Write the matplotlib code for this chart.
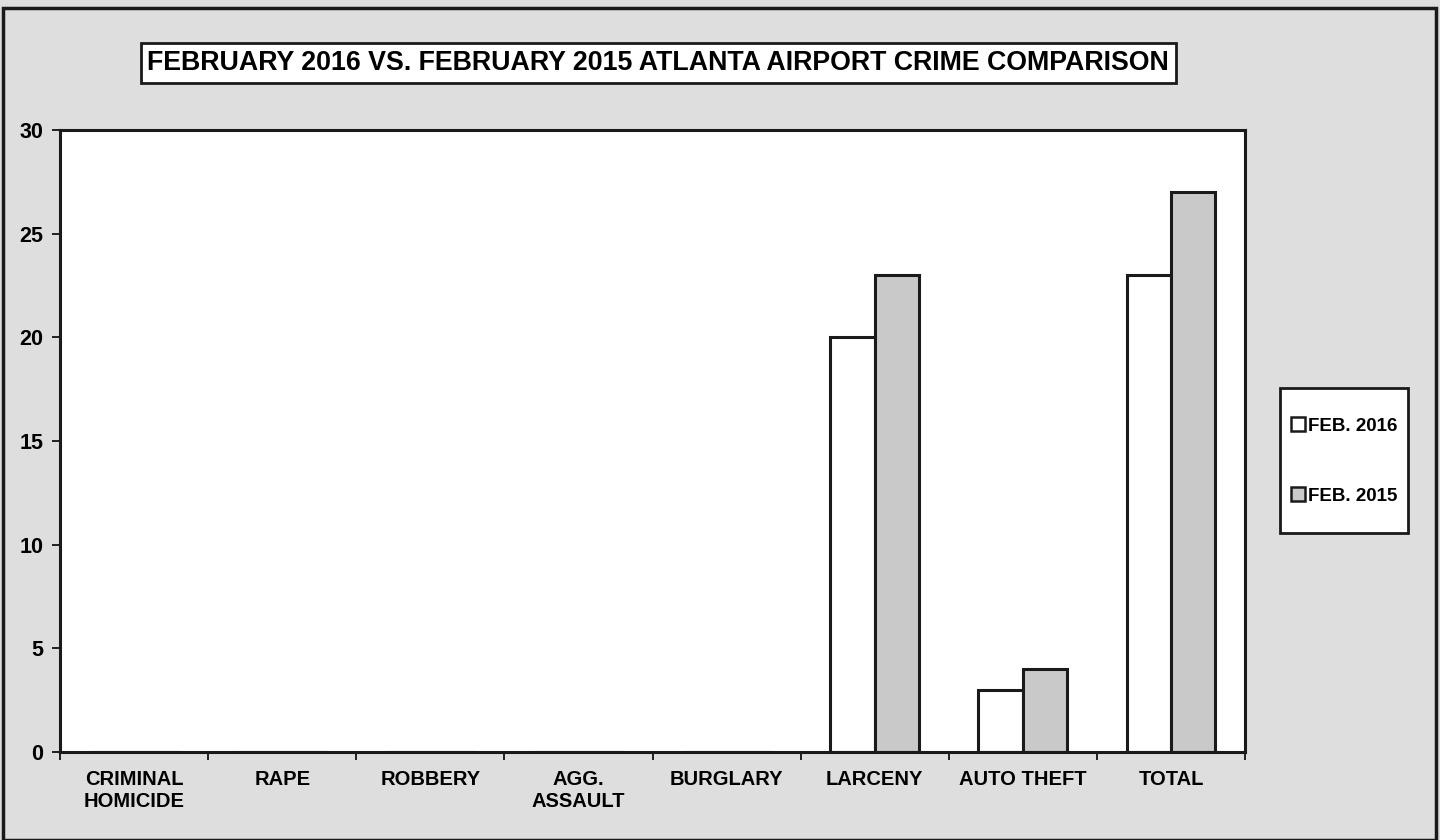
import numpy as np
import matplotlib.pyplot as plt
from matplotlib.patches import Rectangle

# -----------------------------
# Data
# -----------------------------
categories = ["CRIMINAL\nHOMICIDE", "RAPE", "ROBBERY", "AGG.\nASSAULT",
              "BURGLARY", "LARCENY", "AUTO THEFT", "TOTAL"]
feb_2016 = [0, 0, 0, 0, 0, 20, 3, 23]
feb_2015 = [0, 0, 0, 0, 0, 23, 4, 27]
series_labels = ["FEB. 2016", "FEB. 2015"]
y_ticks = [0, 5, 10, 15, 20, 25, 30]

plt.rcParams["font.family"] = ["Liberation Sans", "DejaVu Sans"]
plt.rcParams["font.weight"] = "bold"

bg = "#dedede"
ink = "#1a1a1a"
fig = plt.figure(figsize=(14.4, 8.4), dpi=100, facecolor=bg)
ax = fig.add_axes([0.0417, 0.1048, 0.8229, 0.7402])
ax.set_facecolor("white")

x = np.arange(len(categories))
w = 0.30
ax.bar(x - w / 2, feb_2016, width=w, color="white", edgecolor=ink,
       linewidth=2.2, label=series_labels[0])
ax.bar(x + w / 2, feb_2015, width=w, color="#c9c9c9", edgecolor=ink,
       linewidth=2.2, label=series_labels[1])

ax.set_xlim(-0.5, len(categories) - 0.5)
ax.set_ylim(0, 30)
ax.set_yticks(y_ticks)
ax.tick_params(axis="y", labelsize=15.5, length=6, width=1.2, pad=6)

# category labels centred, ticks at the category boundaries
ax.set_xticks(x)
ax.set_xticklabels(categories, fontsize=14.5, linespacing=1.2)
ax.tick_params(axis="x", which="major", length=0, pad=13)
ax.set_xticks(np.arange(-0.5, len(categories)), minor=True)
ax.tick_params(axis="x", which="minor", length=6, width=1.2)

for s in ax.spines.values():
    s.set_linewidth(2.2)
    s.set_color(ink)

# title inside a boxed frame
fig.text(0.457, 0.925, "FEBRUARY 2016 VS. FEBRUARY 2015 ATLANTA AIRPORT CRIME COMPARISON",
         ha="center", va="center", fontsize=19.3, fontweight="bold",
         bbox=dict(boxstyle="square,pad=0.25", facecolor="white",
                   edgecolor=ink, linewidth=2))

# legend box drawn separately so its shape can follow the original
fig.patches.append(Rectangle((0.8889, 0.3655), 0.0889, 0.1726, transform=fig.transFigure,
                             facecolor="white", edgecolor=ink, linewidth=2))
leg = fig.legend(loc="center", bbox_to_anchor=(0.9333, 0.4512), fontsize=13.5,
                 frameon=False, labelspacing=2.8, handlelength=0.75,
                 handleheight=0.75, handletextpad=0.15, borderpad=0, borderaxespad=0)
for h in leg.legend_handles:
    h.set_linewidth(1.8)

# outer chart border
fig.patches.append(Rectangle((0.002, 0.0), 0.995, 0.99, transform=fig.transFigure,
                             fill=False, edgecolor=ink, linewidth=2.5))

fig.savefig("out.png", dpi=100, facecolor=bg)
